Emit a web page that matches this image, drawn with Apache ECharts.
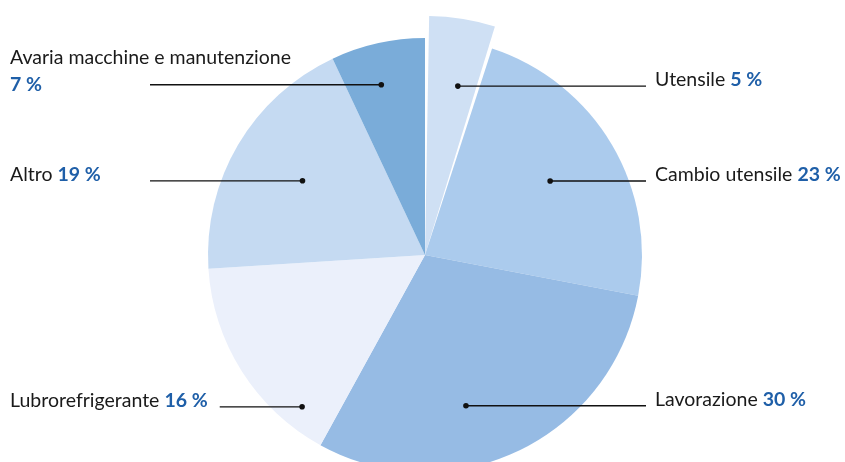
<!DOCTYPE html>
<html>
<head>
<meta charset="utf-8">
<script src="https://cdn.jsdelivr.net/npm/echarts@6/dist/echarts.min.js"></script>
<style>
    html, body { margin: 0; padding: 0; background: #fff; }
    #chart { width: 845px; height: 462px; }
</style>
</head>
<body>
<div id="chart"></div>
<script>
    // dati
    var categories = ['Utensile', 'Cambio utensile', 'Lavorazione', 'Lubrorefrigerante', 'Altro', 'Avaria macchine e manutenzione'];
    var values = [5, 23, 30, 16, 19, 7];
    var percentLabels = ['5 %', '23 %', '30 %', '16 %', '19 %', '7 %'];
    var highlighted = 'Utensile';

    // stile
    var colors = ['#cfe0f4', '#abcbed', '#96bbe4', '#ebf0fb', '#c5daf2', '#7aacd9'];
    var CX = 425, CY = 255, R = 217, R_OUT = 239;
    var FONT = 'Lato';
    var FONT_SIZE = 19.5;
    var ROW_H = 27;
    var LEFT_X = 10, RIGHT_X = 655, LEFT_LINE_MIN = 150;
    // spostamento del punto di ancoraggio rispetto al centro della fetta (gradi, frazione del raggio)
    var anchorShift = [2, 0, 10, -18.6, 0.6, -1.8];
    var anchorRadius = [0.72, 0.67, 0.72, 0.90, 0.66, 0.81];

    var total = values.reduce(function (a, b) { return a + b; }, 0);

    function midAngle(i) {
        var s = 0;
        for (var k = 0; k < i; k++) s += values[k];
        return (s + values[i] / 2) / total * 360;
    }
    function anchor(i) {
        var a = (midAngle(i) + anchorShift[i]) * Math.PI / 180;
        var r = (categories[i] === highlighted ? R_OUT : R) * anchorRadius[i];
        return [CX + r * Math.sin(a), CY - r * Math.cos(a)];
    }
    function wraps(i) { return categories[i].length > 20; }

    var ctx = document.createElement('canvas').getContext('2d');
    function lastRowWidth(i) {
        ctx.font = 'bold ' + FONT_SIZE + 'px ' + FONT;
        var w = ctx.measureText(percentLabels[i]).width;
        if (!wraps(i)) {
            ctx.font = FONT_SIZE + 'px ' + FONT;
            w += ctx.measureText(categories[i] + ' ').width;
        }
        return w;
    }

    function pieData(colorOf) {
        return categories.map(function (c, i) {
            return { name: c, value: values[i], itemStyle: { color: colorOf(c, i) } };
        });
    }

    var myChart = echarts.init(document.getElementById('chart'));
    myChart.setOption({
        animation: false,
        graphic: categories.map(function (c, i) {
            var pt = anchor(i);
            return {
                type: 'circle',
                z: 100,
                shape: { cx: pt[0], cy: pt[1], r: 2.8 },
                style: { fill: '#111' }
            };
        }),
        series: [
            {
                // fetta evidenziata, più grande
                type: 'pie',
                z: 1,
                center: [CX, CY],
                radius: R_OUT,
                startAngle: 90,
                padAngle: 2,
                silent: true,
                label: { show: false },
                labelLine: { show: false },
                data: pieData(function (c, i) { return c === highlighted ? colors[i] : 'rgba(0,0,0,0)'; })
            },
            {
                type: 'pie',
                z: 2,
                center: [CX, CY],
                radius: R,
                startAngle: 90,
                silent: true,
                label: { show: false },
                labelLine: { show: false },
                data: pieData(function (c, i) { return c === highlighted ? 'rgba(0,0,0,0)' : colors[i]; })
            },
            {
                // solo etichette, sopra le fette
                type: 'pie',
                z: 3,
                center: [CX, CY],
                radius: R,
                startAngle: 90,
                silent: true,
                avoidLabelOverlap: false,
                data: pieData(function () { return 'rgba(0,0,0,0)'; }),
                label: {
                    show: true,
                    position: 'outside',
                    fontFamily: FONT,
                    fontSize: FONT_SIZE,
                    color: '#1a1a1a',
                    formatter: function (p) {
                        var i = p.dataIndex;
                        return '{n|' + categories[i] + '}' + (wraps(i) ? '\n' : ' ') + '{p|' + percentLabels[i] + '}';
                    },
                    rich: {
                        n: { fontFamily: FONT, fontSize: FONT_SIZE, color: '#1a1a1a', lineHeight: ROW_H },
                        p: { fontFamily: FONT, fontSize: FONT_SIZE, fontWeight: 'bold', color: '#1f5fa8', lineHeight: ROW_H }
                    }
                },
                labelLine: {
                    show: true,
                    lineStyle: { color: '#111', width: 1.3 }
                },
                labelLayout: function (p) {
                    var i = p.dataIndex;
                    var pt = anchor(i);
                    var rows = wraps(i) ? 2 : 1;
                    var lineY = pt[1];
                    var lastCenter = lineY - (rows > 1 ? 0 : 6);
                    var top = lastCenter - (rows - 0.5) * ROW_H;
                    if (pt[0] > CX) {
                        return {
                            x: RIGHT_X, y: top, align: 'left', verticalAlign: 'top',
                            labelLinePoints: [[pt[0], lineY], [pt[0], lineY], [RIGHT_X - 9, lineY]]
                        };
                    }
                    var startX = Math.max(LEFT_LINE_MIN, LEFT_X + lastRowWidth(i) + 12);
                    return {
                        x: LEFT_X, y: top, align: 'left', verticalAlign: 'top',
                        labelLinePoints: [[pt[0], lineY], [pt[0], lineY], [startX, lineY]]
                    };
                }
            }
        ]
    });
</script>
</body>
</html>
